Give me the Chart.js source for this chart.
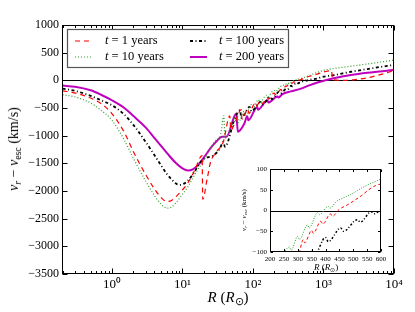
<!DOCTYPE html>
<html>
<head>
<meta charset="utf-8">
<script src="https://cdn.jsdelivr.net/npm/chart.js@4.4.1/dist/chart.umd.min.js"></script>
<style>
  body { margin: 0; background: #fff; }
  #wrap { position: relative; width: 415px; height: 312px; font-family: 'Liberation Serif', serif; color: #000; }
  #main { position: absolute; left: 0; top: 0; }
  #inset { position: absolute; left: 236px; top: 160px; }
  .lbl { position: absolute; white-space: nowrap; transform: translate(-50%, -50%); }
  .rot { transform: translate(-50%, -50%) rotate(-90deg); }
  sub { font-size: 70%; vertical-align: -0.3em; line-height: 0; }
</style>
</head>
<body>
<div id="wrap">
  <canvas id="main" width="415" height="312"></canvas>
  <canvas id="inset" width="155" height="120"></canvas>
  <div class="lbl rot" style="left:14px;top:149px;font-size:14px"><i>v<sub>r</sub></i> &minus; <i>v</i><sub>esc</sub> (km/s)</div>
  <div class="lbl" style="left:228px;top:297px;font-size:15px"><i>R</i> (<i>R</i><sub>&#8857;</sub>)</div>
  <div class="lbl rot" style="left:244px;top:210px;font-size:7px"><i>v<sub>r</sub></i> &minus; <i>v</i><sub>esc</sub> (km/s)</div>
  <div class="lbl" style="left:326px;top:267px;font-size:9px"><i>R</i> (<i>R</i><sub>&#8857;</sub>)</div>
</div>
<script>
// times shown in the legend (years)
const years = [1, 10, 100, 200];

// t = 1 years: radius (R_sun) and v_r - v_esc (km/s)
const r1 = [0.2, 0.3, 0.5, 0.7, 1, 1.5, 2, 3, 4, 5, 6, 7, 8, 10, 12, 15, 19, 19.4, 22.5, 25, 30, 38, 47, 48.5, 55, 68, 70, 85, 88, 105, 108, 130, 135, 160, 165, 200, 208, 250, 258, 295, 300, 320, 325, 350, 356, 383, 390, 418, 425, 448, 480, 508, 530, 556, 580, 600, 800, 1000, 1300, 1350, 2000, 2700, 4000, 5500, 8000, 10000];
const v1 = [-190, -230, -320, -420, -600, -940, -1280, -1700, -1960, -2120, -2190, -2170, -2110, -1980, -1850, -1620, -1360, -2150, -1770, -1480, -1300, -1110, -640, -900, -780, -530, -700, -520, -600, -430, -480, -370, -420, -310, -340, -230, -260, -165, -190, -100, -110, -70, -78, -48, -55, -26, -33, -8, -14, 2, 14, 26, 36, 50, 60, 64, 110, 150, 175, 10, 0, 10, 40, 80, 140, 175];

// t = 10 years
const r2 = [0.2, 0.3, 0.5, 0.7, 1, 1.5, 2, 3, 4, 5, 6, 7, 8, 10, 12, 15, 20, 25, 30, 34.7, 38.6, 40, 50, 60, 62, 75, 78, 95, 100, 120, 125, 155, 160, 200, 210, 245, 270, 276, 300, 306, 335, 341, 372, 378, 410, 416, 440, 470, 500, 530, 560, 600, 800, 1000, 1500, 2000, 3000, 5000, 10000];
const v2 = [-260, -300, -410, -540, -720, -1080, -1400, -1820, -2080, -2240, -2310, -2290, -2220, -2060, -1920, -1700, -1450, -1230, -1080, -990, -640, -1050, -820, -600, -760, -560, -640, -440, -500, -350, -400, -270, -300, -180, -200, -112, -88, -96, -62, -70, -35, -42, -5, -10, 10, 6, 22, 32, 42, 54, 64, 76, 140, 180, 220, 240, 270, 310, 365];

// t = 100 years
const r3 = [0.2, 0.3, 0.5, 0.7, 1, 1.5, 2, 3, 4, 5, 6, 7, 8, 9, 10, 12, 15, 18, 20, 28, 34, 38, 40, 55, 66, 68, 90, 95, 128, 135, 178, 185, 234, 245, 300, 310, 350, 358, 400, 410, 455, 465, 515, 525, 565, 575, 600, 800, 1000, 1420, 2450, 5000, 10000];
const v3 = [-150, -190, -280, -360, -450, -620, -800, -1110, -1350, -1540, -1690, -1790, -1860, -1890, -1880, -1810, -1640, -1480, -1420, -1350, -1230, -1110, -1200, -700, -540, -680, -480, -560, -390, -440, -300, -340, -210, -240, -150, -160, -98, -110, -65, -75, -42, -50, -22, -28, -3, -8, 2, 30, 65, 96, 155, 220, 280];

// t = 200 years
const r4 = [0.2, 0.3, 0.5, 0.7, 1, 1.5, 2, 3, 4, 5, 6, 8, 10, 12, 14, 17, 20, 26, 30, 36.6, 42, 58, 61, 75, 83, 86, 115, 118, 160, 165, 222, 230, 262, 345, 480, 600, 820, 1400, 2450, 4200, 10000];
const v4 = [-95, -115, -180, -260, -360, -500, -640, -850, -1040, -1190, -1310, -1490, -1590, -1630, -1610, -1520, -1400, -1200, -1110, -1020, -1020, -600, -930, -790, -650, -720, -480, -530, -360, -400, -290, -310, -250, -200, -150, -100, -40, 36, 96, 137, 186];

// axis ticks
const mainXTicks = [1, 10, 100, 1000, 10000];
const mainYTicks = [-3500, -3000, -2500, -2000, -1500, -1000, -500, 0, 500, 1000];

const series = [[r1, v1], [r2, v2], [r3, v3], [r4, v4]];
const toPoints = (r, v) => r.map((x, i) => ({ x: x, y: v[i] }));
const minus = v => (v < 0 ? '\u2212' + Math.abs(v) : String(v));
const sup = { 0: '\u2070', 1: '\u00b9', 2: '\u00b2', 3: '\u00b3', 4: '\u2074' };

function makeDatasets(small) {
  const look = [
    { color: '#ff0000', width: small ? 1 : 1.2, dash: small ? [3, 2.5] : [5, 4] },
    { color: '#2ca02c', width: small ? 1 : 1.2, dash: small ? [1, 1.5] : [1, 2] },
    { color: '#000000', width: small ? 1.5 : 1.8, dash: small ? [2, 2, 1, 2] : [3, 2.5, 1, 2.5] },
    { color: '#bf00bf', width: small ? 1.5 : 2, dash: [] }
  ];
  return series.map(([r, v], i) => ({
    label: 't = ' + years[i] + ' years',
    data: toPoints(r, v),
    borderColor: look[i].color,
    borderWidth: look[i].width,
    borderDash: look[i].dash,
    pointRadius: 0,
    fill: false,
    cubicInterpolationMode: 'monotone'
  }));
}

// frame with inward ticks on all sides, zero line and the boxed legend
const axisDecor = {
  id: 'axisDecor',
  beforeDraw(chart) {
    const { ctx, chartArea: a } = chart;
    ctx.save();
    ctx.fillStyle = '#fff';
    ctx.fillRect(a.left, a.top, a.right - a.left, a.bottom - a.top);
    ctx.restore();
  },
  beforeDatasetsDraw(chart, args, o) {
    const { ctx, chartArea: a, scales: { y } } = chart;
    const y0 = Math.round(y.getPixelForValue(0)) + 0.5;
    ctx.save();
    ctx.strokeStyle = '#000';
    ctx.lineWidth = o.zeroWidth;
    ctx.beginPath();
    ctx.moveTo(a.left, y0);
    ctx.lineTo(a.right, y0);
    ctx.stroke();
    ctx.restore();
  },
  afterDatasetsDraw(chart, args, o) {
    const { ctx, chartArea: a, scales: { x, y } } = chart;
    const L = Math.round(a.left) + 0.5, R = Math.round(a.right) - 0.5;
    const T = Math.round(a.top) + 0.5, B = Math.round(a.bottom) - 0.5;
    ctx.save();
    ctx.strokeStyle = '#000';
    ctx.lineWidth = 1;
    ctx.setLineDash([]);
    ctx.beginPath();
    y.ticks.forEach(t => {
      const p = Math.round(y.getPixelForValue(t.value)) + 0.5;
      ctx.moveTo(L, p); ctx.lineTo(L + o.major, p);
      ctx.moveTo(R, p); ctx.lineTo(R - o.major, p);
    });
    let xt = [];
    if (x.type === 'logarithmic') {
      for (let e = Math.floor(Math.log10(x.min)); e <= Math.ceil(Math.log10(x.max)); e++) {
        for (let k = 1; k <= 9; k++) {
          const v = k * Math.pow(10, e);
          if (v >= x.min && v <= x.max) xt.push([v, k === 1]);
        }
      }
    } else {
      xt = x.ticks.map(t => [t.value, true]);
    }
    xt.forEach(([v, major]) => {
      const p = Math.round(x.getPixelForValue(v)) + 0.5;
      const len = major ? o.major : o.minor;
      ctx.moveTo(p, B); ctx.lineTo(p, B - len);
      ctx.moveTo(p, T); ctx.lineTo(p, T + len);
    });
    ctx.stroke();
    ctx.strokeRect(L, T, R - L, B - T);

    if (o.legend) {
      ctx.fillStyle = '#fff';
      ctx.fillRect(67.5, 29.5, 221, 38);
      ctx.strokeStyle = '#555';
      ctx.lineWidth = 1.2;
      ctx.strokeRect(67.5, 29.5, 221, 38);
      chart.data.datasets.forEach((ds, i) => {
        const col = Math.floor(i / 2), row = i % 2;
        const yy = row === 0 ? 41 : 57;
        const sx = col === 0 ? 75 : 190;
        const tx = col === 0 ? 105 : 219;
        ctx.save();
        ctx.strokeStyle = ds.borderColor;
        ctx.lineWidth = ds.borderWidth;
        ctx.setLineDash(ds.borderDash);
        ctx.beginPath();
        ctx.moveTo(sx, yy);
        ctx.lineTo(sx + 17, yy);
        ctx.stroke();
        ctx.restore();
        ctx.fillStyle = '#000';
        ctx.textBaseline = 'middle';
        ctx.font = 'italic 12.5px "Liberation Serif"';
        ctx.fillText('t', tx, yy);
        const w = ctx.measureText('t').width;
        ctx.font = '12.5px "Liberation Serif"';
        ctx.fillText(' = ' + years[i] + ' years', tx + w, yy);
      });
    }
    ctx.restore();
  }
};

new Chart(document.getElementById('main'), {
  type: 'line',
  data: { datasets: makeDatasets(false) },
  plugins: [axisDecor],
  options: {
    responsive: false,
    animation: false,
    layout: { padding: { top: 25, right: 21, left: 0, bottom: 0 } },
    plugins: {
      legend: { display: false },
      tooltip: { enabled: false },
      axisDecor: { major: 5, minor: 2.5, zeroWidth: 1.2, legend: true }
    },
    scales: {
      x: {
        type: 'logarithmic',
        bounds: 'data',
        min: 0.196,
        max: 10000,
        grid: { display: false, drawTicks: false },
        border: { display: false },
        afterBuildTicks: ax => { ax.ticks = mainXTicks.map(v => ({ value: v })); },
        afterFit: ax => { ax.height = 38; },
        ticks: {
          autoSkip: false,
          maxRotation: 0,
          padding: 3,
          color: '#000',
          font: { family: 'Liberation Serif', size: 13 },
          callback: v => '10' + sup[Math.round(Math.log10(v))]
        }
      },
      y: {
        type: 'linear',
        min: -3500,
        max: 1000,
        grid: { display: false, drawTicks: false },
        border: { display: false },
        afterBuildTicks: ax => { ax.ticks = mainYTicks.map(v => ({ value: v })); },
        afterFit: ax => { ax.width = 62; },
        ticks: {
          padding: 3,
          color: '#000',
          font: { family: 'Liberation Serif', size: 12 },
          callback: minus
        }
      }
    }
  }
});

new Chart(document.getElementById('inset'), {
  type: 'line',
  data: { datasets: makeDatasets(true) },
  plugins: [axisDecor],
  options: {
    responsive: false,
    animation: false,
    layout: { padding: { top: 9, right: 10, left: 0, bottom: 0 } },
    plugins: {
      legend: { display: false },
      tooltip: { enabled: false },
      axisDecor: { major: 2.5, minor: 2.5, zeroWidth: 1.2, legend: false }
    },
    scales: {
      x: {
        type: 'linear',
        min: 200,
        max: 600,
        grid: { display: false, drawTicks: false },
        border: { display: false },
        afterFit: ax => { ax.height = 28; },
        ticks: {
          stepSize: 50,
          autoSkip: false,
          maxRotation: 0,
          padding: 3,
          color: '#000',
          font: { family: 'Liberation Serif', size: 7 }
        }
      },
      y: {
        type: 'linear',
        min: -100,
        max: 100,
        grid: { display: false, drawTicks: false },
        border: { display: false },
        afterFit: ax => { ax.width = 34; },
        ticks: {
          stepSize: 50,
          padding: 3,
          color: '#000',
          font: { family: 'Liberation Serif', size: 7 },
          callback: minus
        }
      }
    }
  }
});
</script>
</body>
</html>
